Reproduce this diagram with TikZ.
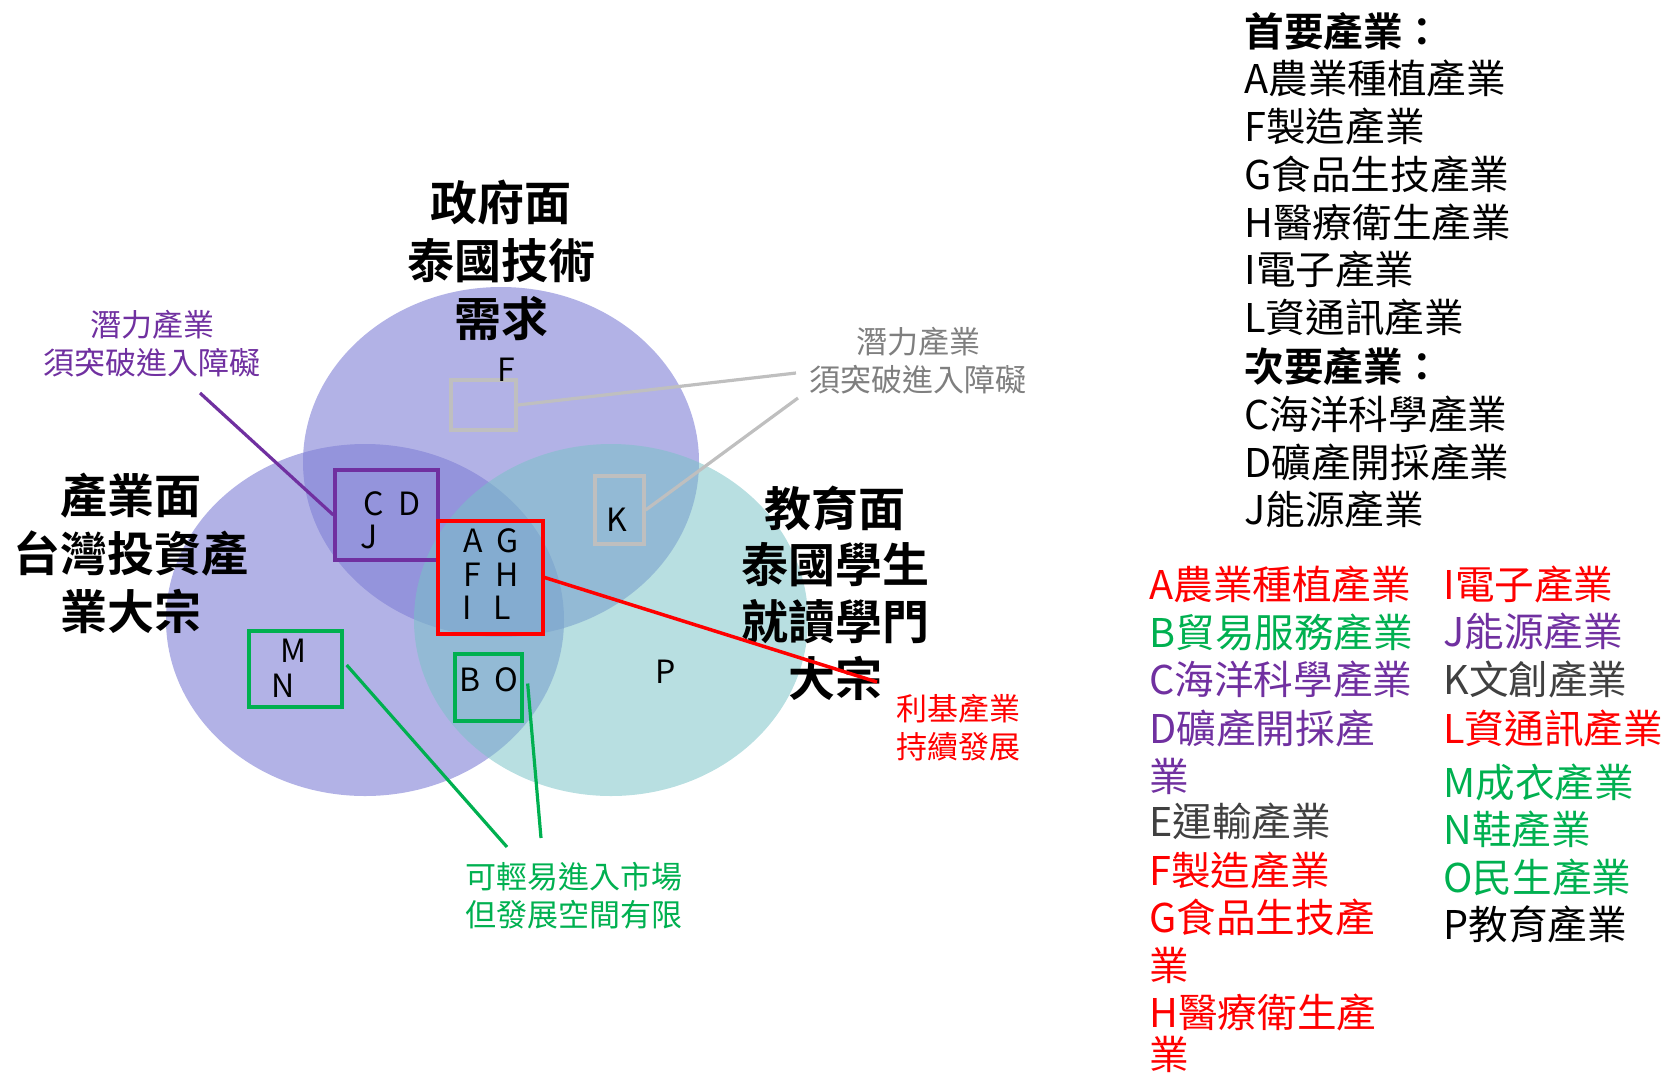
\documentclass[tikz,border=0pt]{standalone}
\usepackage{fontspec}
\setmainfont{Noto Sans CJK TC}[BoldFont={Noto Sans CJK TC Bold}]
\definecolor{vpurple}{RGB}{127,127,213}
\definecolor{vteal}{RGB}{120,194,198}
\definecolor{lgray}{RGB}{191,191,191}
\definecolor{tgray}{RGB}{127,127,127}
\definecolor{opurple}{RGB}{112,48,160}
\definecolor{ogreen}{RGB}{0,176,80}
\definecolor{dgray}{RGB}{64,64,64}
\definecolor{ored}{RGB}{255,0,0}
\begin{document}
\begin{tikzpicture}[x=0.5pt,y=-0.5pt,
  title/.style={font=\bfseries\fontsize{23.5}{29}\selectfont, align=center, inner sep=0},
  note/.style={font=\fontsize{15.5}{19}\selectfont, align=center, inner sep=0},
  boxl/.style={font=\fontsize{16}{17}\selectfont, inner sep=0},
  ibox/.style={draw, line width=1.65pt, inner sep=0},
  conn/.style={line width=1.6pt},
  leg/.style={anchor=west, inner sep=0, font=\fontsize{19.8}{24}\selectfont},
  legb/.style={leg, font=\bfseries\fontsize{19.8}{24}\selectfont}]
\useasboundingbox (0,0) rectangle (1664,1077);
% circles
\fill[vpurple, fill opacity=0.6] (501,462) ellipse [x radius=99pt, y radius=87.5pt];
\fill[vpurple, fill opacity=0.6] (365,620) ellipse [x radius=99.5pt, y radius=88pt];
\fill[vteal, fill opacity=0.53] (611,620) ellipse [x radius=98.5pt, y radius=88pt];
% titles
\node[title] (tgov) at (501,260) {政府面\\泰國技術\\需求};
\node[title] (tind) at (131,553) {產業面\\台灣投資產\\業大宗};
\node[title, font=\bfseries\fontsize{23.5}{28.3}\selectfont] (tedu) at (835,593) {教育面\\泰國學生\\就讀學門\\大宗};
% boxes
\node[ibox, lgray, minimum width=32.5pt, minimum height=25pt] (bF) at (483.5,405) {};
\node[ibox, lgray, minimum width=24.5pt, minimum height=34pt] (bK) at (619.5,510) {};
\node[ibox, opurple, minimum width=51.5pt, minimum height=45pt] (bCD) at (386.5,515) {};
\node[ibox, ored, minimum width=52.5pt, minimum height=56.5pt] (bAG) at (490.5,577.5) {};
\node[ibox, ogreen, minimum width=46.5pt, minimum height=38pt] (bMN) at (295.5,669) {};
\node[ibox, ogreen, minimum width=33.5pt, minimum height=33.5pt] (bBO) at (488.5,687.5) {};
% box letters
\node[boxl] (xF) at (506,370) {F};
\node[boxl] (xK) at (617,520) {K};
\node[boxl] (xCD) at (392,504) {C\ \ D};
\node[boxl] (xJ) at (369,537) {J};
\node[boxl] (xAG) at (491,541) {A\ \ G};
\node[boxl] (xFH) at (491,575) {F\ \ H};
\node[boxl] (xIL) at (487,608) {I\ \ \ L};
\node[boxl] (xM) at (293,651) {M};
\node[boxl] (xN) at (283,686) {N};
\node[boxl] (xBO) at (489,680) {B\ \ O};
\node[boxl] (xP) at (666,672) {P};
% labels
\node[note, tgray] (ngray) at (918,361) {潛力產業\\須突破進入障礙};
\node[note, opurple] (npur) at (152,344) {潛力產業\\須突破進入障礙};
\node[note, ored] (nred) at (958,728) {利基產業\\持續發展};
\node[note, ogreen] (ngrn) at (574,896) {可輕易進入市場\\但發展空間有限};
% connector ends
\coordinate (eG1) at (796,373);
\coordinate (eG2) at (798,398);
\coordinate (eP) at (200,393);
\coordinate (eR) at (877,682);
\coordinate (eM) at (507,847);
\coordinate (eB) at (541,838);
\draw[conn, lgray] (bF.east) -- (eG1);
\draw[conn, lgray] (bK.east) -- (eG2);
\draw[conn, opurple] (bCD.west) -- (eP);
\draw[conn, ored, line width=1.75pt] (bAG.east) -- (eR);
\draw[conn, ogreen] ([shift={(3,-4)}]bMN.east) -- (eM);
\draw[conn, ogreen] ([shift={(4,-4)}]bBO.east) -- (eB);
% legend top
\node[legb] (h1) at (1244,31) {首要產業：};
\node[leg] (p1) at (1244,78.5) {A農業種植產業};
\node[leg] (p2) at (1244,126) {F製造產業};
\node[leg] (p3) at (1244,174) {G食品生技產業};
\node[leg] (p4) at (1244,222) {H醫療衛生產業};
\node[leg] (p5) at (1244,269.5) {I電子產業};
\node[leg] (p6) at (1244,317) {L資通訊產業};
\node[legb] (h2) at (1244,366) {次要產業：};
\node[leg] (s1) at (1244,414) {C海洋科學產業};
\node[leg] (s2) at (1244,462) {D礦產開採產業};
\node[leg] (s3) at (1244,509) {J能源產業};
% legend bottom col 1
\node[leg, ored] (cA) at (1149,584) {A農業種植產業};
\node[leg, ogreen] (cB) at (1149,632) {B貿易服務產業};
\node[leg, opurple] (cC) at (1149,679) {C海洋科學產業};
\node[leg, opurple] (cD) at (1149,728) {D礦產開採產};
\node[leg, opurple] (cD2) at (1149,776) {業};
\node[leg, dgray] (cE) at (1149,821) {E運輸產業};
\node[leg, ored] (cF) at (1149,870) {F製造產業};
\node[leg, ored] (cG) at (1149,917) {G食品生技產};
\node[leg, ored] (cG2) at (1149,965) {業};
\node[leg, ored] (cH) at (1149,1012) {H醫療衛生產};
\node[leg, ored] (cH2) at (1149,1054) {業};
% legend bottom col 2
\node[leg, ored] (cI) at (1443,584) {I電子產業};
\node[leg, opurple] (cJ) at (1443,631) {J能源產業};
\node[leg, dgray] (cK) at (1443,679) {K文創產業};
\node[leg, ored] (cL) at (1443,728) {L資通訊產業};
\node[leg, ogreen] (cM) at (1443,782) {M成衣產業};
\node[leg, ogreen] (cN) at (1443,829) {N鞋產業};
\node[leg, ogreen] (cO) at (1443,877) {O民生產業};
\node[leg] (cP) at (1443,924) {P教育產業};
\end{tikzpicture}
\end{document}
